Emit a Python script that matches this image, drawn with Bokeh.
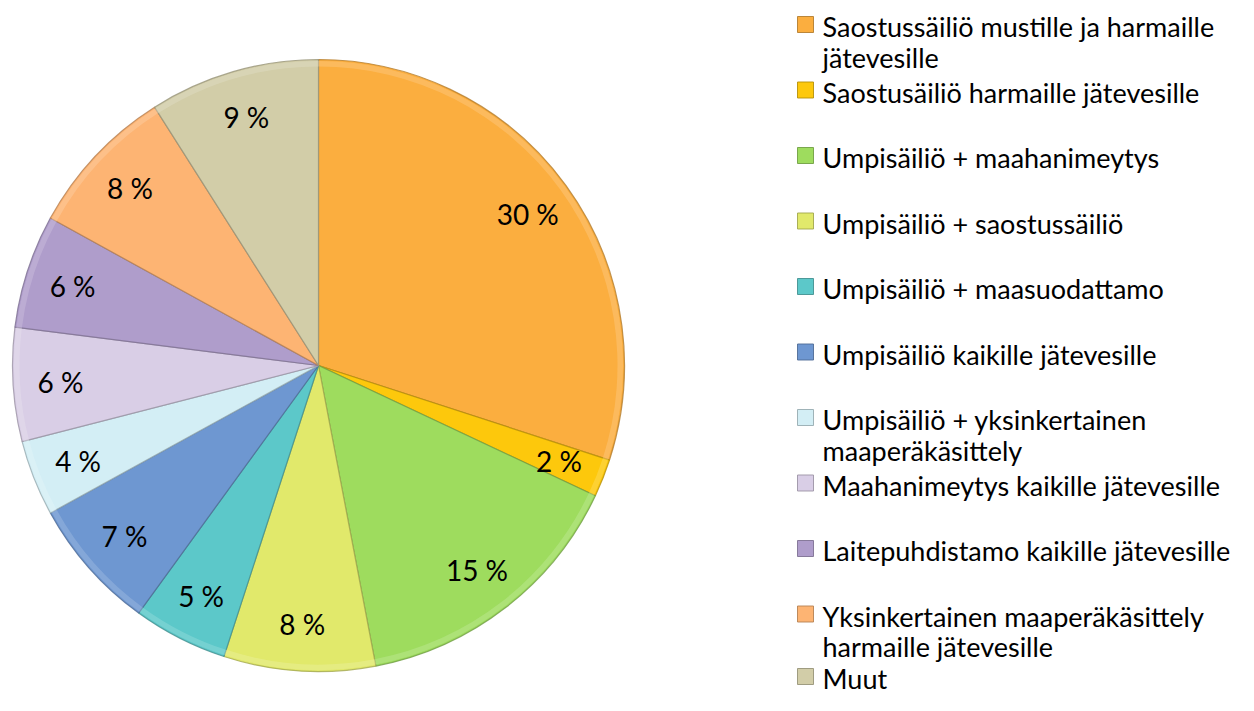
import math
from bokeh.plotting import figure
from bokeh.models import Range1d, ColumnDataSource
from bokeh.core.properties import value
from bokeh.embed import file_html
from bokeh.resources import INLINE

# ---- data ----
categories = [
    "Saostussäiliö mustille ja harmaille\njätevesille",
    "Saostusäiliö harmaille jätevesille",
    "Umpisäiliö + maahanimeytys",
    "Umpisäiliö + saostussäiliö",
    "Umpisäiliö + maasuodattamo",
    "Umpisäiliö kaikille jätevesille",
    "Umpisäiliö + yksinkertainen\nmaaperäkäsittely",
    "Maahanimeytys kaikille jätevesille",
    "Laitepuhdistamo kaikille jätevesille",
    "Yksinkertainen maaperäkäsittely\nharmaille jätevesille",
    "Muut",
]
percents = [30, 2, 15, 8, 5, 7, 4, 6, 6, 8, 9]
colors = ["#FBAE3F", "#FDC80C", "#9EDC5E", "#E1E96B", "#5CC8C9", "#6E97D1",
          "#D3EEF5", "#D9CEE6", "#AF9DCB", "#FDB473", "#D2CDA8"]
pct_labels = [f"{v} %" for v in percents]

FONT = "Lato"


def shade(hexc, f):
    r, g, b = (int(hexc[i:i + 2], 16) for i in (1, 3, 5))
    if f < 1:
        r, g, b = (int(c * f) for c in (r, g, b))
    else:
        t = f - 1
        r, g, b = (int(c + (255 - c) * t) for c in (r, g, b))
    return "#%02x%02x%02x" % (r, g, b)


W, H = 1238, 695
p = figure(width=W, height=H, x_range=Range1d(0, W), y_range=Range1d(0, H),
           output_backend="svg", toolbar_location=None, min_border=0)
p.axis.visible = False
p.grid.visible = False
p.outline_line_color = None
p.background_fill_color = "white"


def px(xp):
    return xp


def py(yp):
    return H - yp


cx, cy, R = px(318), py(365), 306
total = sum(percents)
starts, ends, mids = [], [], []
acc = 0.0
for v in percents:
    a0 = math.pi / 2 - 2 * math.pi * acc / total
    acc += v
    a1 = math.pi / 2 - 2 * math.pi * acc / total
    starts.append(a0)
    ends.append(a1)
    mids.append((a0 + a1) / 2)

dark = [shade(c, 0.72) for c in colors]
light = [shade(c, 1.35) for c in colors]
src = ColumnDataSource(dict(start=starts, end=ends, color=colors, dark=dark, light=light))
p.wedge(x=cx, y=cy, radius=R, start_angle="start", end_angle="end",
        direction="clock", fill_color="color", line_color="dark",
        line_alpha=0.8, line_width=1.2, source=src)
# subtle bevel highlight along the rim
p.annular_wedge(x=cx, y=cy, inner_radius=R - 7, outer_radius=R - 1.5,
                start_angle="start", end_angle="end", direction="clock",
                fill_color="light", fill_alpha=0.45, line_color=None, source=src)

# percentage labels
d = 0.845 * R
lx = [cx + d * math.cos(m) for m in mids]
ly = [cy + d * math.sin(m) for m in mids]
p.text(x=lx, y=ly, text=pct_labels, text_align="center", text_baseline="middle",
       text_font=value(FONT), text_font_size="28px", text_color="#000000")

# legend
mx, my, tx, tl, ty = [], [], [], [], []
for k, lab in enumerate(categories):
    yc = min(24 + 65.5 * k, 676)
    mx.append(px(805))
    my.append(py(yc))
    for j, line in enumerate(lab.split("\n")):
        tx.append(px(822))
        ty.append(py(yc + 2 + 30.5 * j))
        tl.append(line)
p.rect(x=mx, y=my, width=16, height=16, fill_color=colors,
       line_color=dark, line_alpha=0.9, line_width=1)
p.text(x=tx, y=ty, text=tl, text_align="left", text_baseline="middle",
       text_font=value(FONT), text_font_size="27px", text_color="#000000")

open("out.html", "w").write(file_html(p, INLINE))
